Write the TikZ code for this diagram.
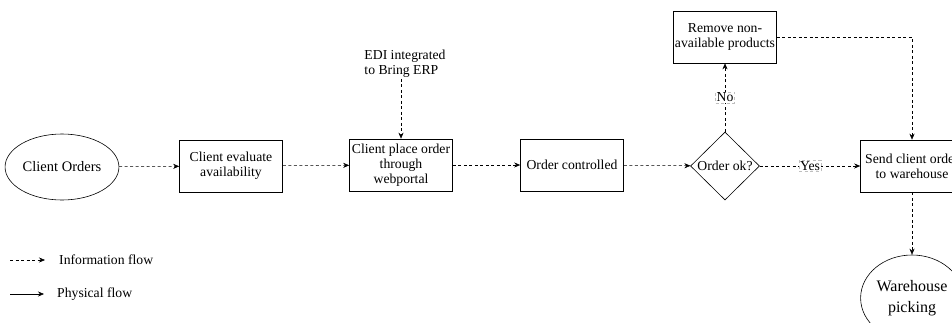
\documentclass[tikz,border=0pt]{standalone}
\usepackage{fontspec}
\setmainfont{Liberation Serif}
\usetikzlibrary{shapes.geometric,arrows.meta}

\tikzset{
  base/.style={font=\fontsize{13.7}{15}\selectfont, align=center, inner sep=1pt},
  procbox/.style={base, draw, line width=0.6pt, minimum width=103pt, minimum height=52pt},
  endpoint/.style={base, draw, ellipse, line width=0.6pt},
  decision/.style={base, draw, diamond, aspect=1, line width=0.6pt, minimum width=69pt, minimum height=68pt, inner sep=0pt},
  info/.style={draw, line width=0.5pt, dash pattern=on 3pt off 2.5pt, -{Stealth[length=6pt,width=5pt]}},
  phys/.style={draw, line width=0.6pt, -{Stealth[length=6pt,width=5pt]}},
  edgelabel/.style={base, fill=white, draw=black!25, line width=0.3pt, inner sep=1pt}
}

\begin{document}
\begin{tikzpicture}[x=1pt, y=-1pt]
  \useasboundingbox (0,0) rectangle (952,322);

  % main process chain
  \node[endpoint, minimum width=105pt, minimum height=66pt, font=\fontsize{14.5}{17}\selectfont] (orders) at (62,167) {Client Orders};
  \node[procbox] (evaluate) at (231,166) {Client evaluate\\availability};
  \node[procbox] (place) at (401,165) {Client place order\\through\\webportal};
  \node[base, align=left] (edi) at (405,64) {EDI integrated\\to Bring ERP};
  \node[procbox] (control) at (572,165) {Order controlled};
  \node[decision] (ok) at (725,166) {Order ok?};
  \node[procbox] (remove) at (725,37) {Remove non-\\available products};
  \node[procbox] (send) at (912,166) {Send client order\\to warehouse};
  \node[endpoint, minimum width=100pt, minimum height=86pt, font=\fontsize{16}{21}\selectfont] (picking) at (912,298) {Warehouse\\picking};

  % information flow
  \draw[info] (orders) -- (evaluate);
  \draw[info] (evaluate) -- (place);
  \draw[info] (edi.south -| place.north) -- (place.north);
  \draw[info] (place) -- (control);
  \draw[info] (control) -- (ok);
  \draw[info] (ok) -- node[edgelabel] {No} (remove);
  \draw[info] (ok) -- node[edgelabel] {Yes} (send);
  \draw[info] (remove.east) -| (send.north);
  \draw[info] (send) -- (picking);

  % legend
  \coordinate (infoA) at (10,260);
  \coordinate (infoB) at (45,260);
  \coordinate (physA) at (10,294);
  \coordinate (physB) at (44,294);
  \draw[info] (infoA) -- (infoB);
  \node[base, anchor=west] (infoText) at (58,260) {Information flow};
  \draw[phys] (physA) -- (physB);
  \node[base, anchor=west] (physText) at (56,294) {Physical flow};
\end{tikzpicture}
\end{document}
